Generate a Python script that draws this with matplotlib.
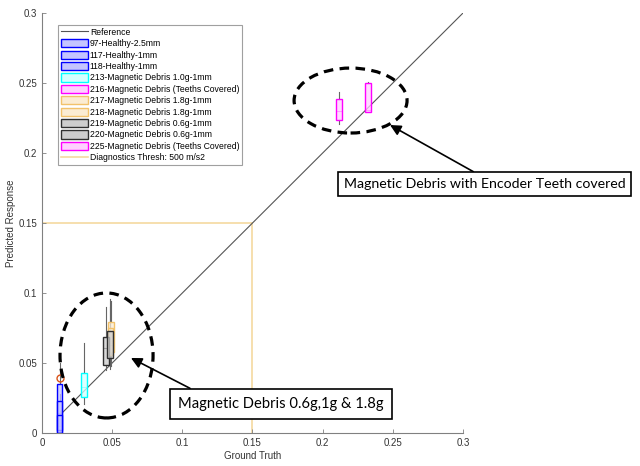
import matplotlib.pyplot as plt
from matplotlib.patches import Ellipse, Patch
from matplotlib.lines import Line2D

plt.rcParams['font.family'] = 'Liberation Sans'

# Box plot statistics per test run (ground truth position, predicted response quartiles)
labels = ['97-Healthy-2.5mm', '117-Healthy-1mm', '118-Healthy-1mm',
          '213-Magnetic Debris 1.0g-1mm', '216-Magnetic Debris (Teeths Covered)',
          '217-Magnetic Debris 1.8g-1mm', '218-Magnetic Debris 1.8g-1mm',
          '219-Magnetic Debris 0.6g-1mm', '220-Magnetic Debris 0.6g-1mm',
          '225-Magnetic Debris (Teeths Covered)']
positions = [0.0125, 0.0125, 0.0125, 0.030, 0.2117, 0.0490, 0.0488, 0.0455, 0.0485, 0.2323]
q1 = [0.001, 0.002, 0.000, 0.026, 0.2236, 0.058, 0.056, 0.0486, 0.0536, 0.2293]
med = [0.014, 0.010, 0.005, 0.033, 0.230, 0.066, 0.064, 0.061, 0.063, 0.231]
q3 = [0.035, 0.023, 0.013, 0.043, 0.2386, 0.079, 0.075, 0.0686, 0.073, 0.250]
whislo = [0.0, 0.0, 0.0, 0.021, 0.2207, 0.048, 0.047, 0.045, 0.046, 0.229]
whishi = [0.050, 0.028, 0.016, 0.064, 0.2436, 0.094, 0.090, 0.090, 0.096, 0.251]
fliers = [[0.039], [], [], [], [], [], [], [], [], []]

edge_colors = ['#0000ff', '#0000ff', '#0000ff', '#00ffff', '#ff00ff',
               '#f2c26b', '#f2c26b', '#303030', '#303030', '#ff00ff']
face_colors = ['#c4c4ff', '#c4c4ff', '#c4c4ff', '#d4ffff', '#ffd0ff',
               '#fbecd2', '#fbecd2', '#cdcdcd', '#cdcdcd', '#ffd0ff']

ref_x = [0.0125, 0.3]
thresh = 0.15

fig = plt.figure(figsize=(6.4, 4.66), dpi=100)
ax = fig.add_axes([0.0656, 0.0708, 0.6578, 0.9012])

# threshold lines
ax.plot([0, thresh], [thresh, thresh], color='#f5d9a0', lw=1.2, zorder=1)
ax.plot([thresh, thresh], [0, thresh], color='#f5d9a0', lw=1.2, zorder=1)

# reference y = x
ax.plot(ref_x, ref_x, color='#555555', lw=0.8, zorder=2)

stats = []
for i in range(len(labels)):
    stats.append(dict(med=med[i], q1=q1[i], q3=q3[i], whislo=whislo[i],
                      whishi=whishi[i], fliers=fliers[i]))

bp = ax.bxp(stats, positions=positions, widths=0.0042, patch_artist=True,
            manage_ticks=False, showfliers=True, showcaps=False,
            whiskerprops=dict(color='#666666', lw=0.8),
            flierprops=dict(marker='o', markerfacecolor='none',
                            markeredgecolor='#d95319', markersize=5, lw=0))
for i, box in enumerate(bp['boxes']):
    box.set_facecolor(face_colors[i] + 'c0')
    box.set_edgecolor(edge_colors[i])
    box.set_linewidth(1.0)
    box.set_zorder(3)
for i, m in enumerate(bp['medians']):
    m.set_color(edge_colors[i])
    m.set_linewidth(0.8)

# dashed ellipses around the debris groups
ax.add_patch(Ellipse((0.2199, 0.2375), 0.0805, 0.0464, fill=False, ec='black',
                     lw=2.3, ls=(0, (3, 2)), zorder=4))
ax.add_patch(Ellipse((0.046, 0.0554), 0.0663, 0.0893, fill=False, ec='black',
                     lw=2.3, ls=(0, (3, 2)), zorder=4))

box_style = dict(boxstyle='square,pad=0.4', fc='white', ec='black', lw=1.2)
ax.annotate('Magnetic Debris with Encoder Teeth covered', xy=(0.248, 0.220),
            xytext=(0.3154, 0.1779), ha='center', va='center', fontsize=10.2,
            family='Lato', bbox=box_style, annotation_clip=False,
            arrowprops=dict(arrowstyle='-|>', color='black', lw=1.2,
                            relpos=(0.5, 1), shrinkA=0, shrinkB=0,
                            mutation_scale=16))
ax.annotate('Magnetic Debris 0.6g,1g & 1.8g', xy=(0.0634, 0.0536),
            xytext=(0.1703, 0.0207), ha='center', va='center', fontsize=10.6,
            family='Lato', bbox=dict(boxstyle='square,pad=0.55', fc='white',
                                     ec='black', lw=1.2),
            annotation_clip=False,
            arrowprops=dict(arrowstyle='-|>', color='black', lw=1.2,
                            relpos=(0.14, 1), shrinkA=0, shrinkB=0,
                            mutation_scale=16))

ax.set_xlim(0, 0.3)
ax.set_ylim(0, 0.3)
ticks = [0, 0.05, 0.1, 0.15, 0.2, 0.25, 0.3]
tick_labels = ['0', '0.05', '0.1', '0.15', '0.2', '0.25', '0.3']
ax.set_xticks(ticks)
ax.set_xticklabels(tick_labels)
ax.set_yticks(ticks)
ax.set_yticklabels(tick_labels)
ax.tick_params(direction='in', length=3, width=0.6, colors='#808080',
               labelcolor='#333333', labelsize=7)
for side in ['top', 'right']:
    ax.spines[side].set_visible(False)
for side in ['left', 'bottom']:
    ax.spines[side].set_color('#808080')
    ax.spines[side].set_linewidth(0.8)
ax.set_xlabel('Ground Truth', fontsize=7, color='#333333', labelpad=2)
ax.set_ylabel('Predicted Response', fontsize=7, color='#333333', labelpad=2)

handles = [Line2D([], [], color='#555555', lw=0.8)]
for i in range(len(labels)):
    handles.append(Patch(facecolor=face_colors[i], edgecolor=edge_colors[i], lw=1.0))
handles.append(Line2D([], [], color='#f5d9a0', lw=1.2))
leg_labels = ['Reference'] + labels + ['Diagnostics Thresh: 500 m/s2']
leg = ax.legend(handles, leg_labels, loc='upper left', bbox_to_anchor=(0.038, 0.971),
                borderaxespad=0, fontsize=6.2, fancybox=False, edgecolor='#a0a0a0',
                handlelength=3.2, handleheight=1.1, labelspacing=0.27,
                handletextpad=0.2, borderpad=0.3, framealpha=1)
leg.get_frame().set_linewidth(0.8)

fig.savefig('out.png', dpi=100)
